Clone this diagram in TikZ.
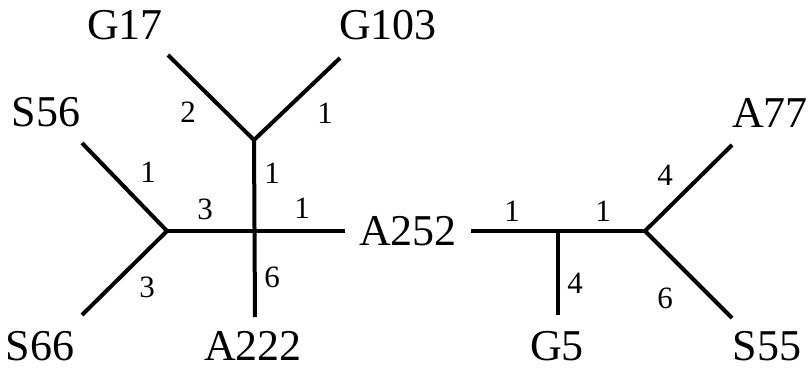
\documentclass[tikz,border=0pt]{standalone}
\usepackage{fontspec}
\setmainfont{Liberation Serif}
\begin{document}
\begin{tikzpicture}[x=1pt,y=-1pt,
    branch/.style={line width=4pt, line join=miter},
    taxon/.style={font=\fontsize{44}{44}\selectfont, inner sep=0pt},
    weight/.style={font=\fontsize{31}{31}\selectfont, inner sep=0pt}]
  \useasboundingbox (0,0) rectangle (811,367);
  % inner vertices
  \coordinate (gj) at (254,140);
  \coordinate (cj) at (255,231);
  \coordinate (sj) at (167,231);
  \coordinate (g5j) at (558,231);
  \coordinate (aj) at (645,231);
  % free ends of the branches
  \coordinate (g17e) at (168,55);
  \coordinate (g103e) at (340,58);
  \coordinate (s56e) at (82,143);
  \coordinate (s66e) at (82,315);
  \coordinate (a222e) at (255,317);
  \coordinate (g5e) at (558,315);
  \coordinate (a77e) at (732,145);
  \coordinate (s55e) at (732,318);
  % taxa
  \node[taxon] (g17) at (125,25) {G17};
  \node[taxon] (g103) at (388,25) {G103};
  \node[taxon] (s56) at (46,112) {S56};
  \node[taxon] (s66) at (40,346) {S66};
  \node[taxon] (a222) at (253,346) {A222};
  \node[taxon, inner xsep=14pt] (a252) at (408,231) {A252};
  \node[taxon] (g5) at (557,346) {G5};
  \node[taxon] (s55) at (767,346) {S55};
  \node[taxon] (a77) at (770,113) {A77};
  % branches
  \draw[branch] (g17e) -- (gj) -- (g103e);
  \draw[branch] (gj) -- (a222e);
  \draw[branch] (s56e) -- (sj) -- (s66e);
  \draw[branch] (sj) -- (cj) -- (a252);
  \draw[branch] (a252) -- (aj);
  \draw[branch] (g5j) -- (g5e);
  \draw[branch] (a77e) -- (aj) -- (s55e);
  % branch weights
  \node[weight] (w1) at (188,112) {2};
  \node[weight] (w2) at (325,113) {1};
  \node[weight] (w3) at (148,172) {1};
  \node[weight] (w4) at (272,173) {1};
  \node[weight] (w5) at (205,209) {3};
  \node[weight] (w6) at (302,208) {1};
  \node[weight] (w7) at (272,277) {6};
  \node[weight] (w8) at (147,287) {3};
  \node[weight] (w9) at (512,211) {1};
  \node[weight] (w10) at (603,211) {1};
  \node[weight] (w11) at (575,283) {4};
  \node[weight] (w12) at (665,175) {4};
  \node[weight] (w13) at (665,298) {6};
\end{tikzpicture}
\end{document}
